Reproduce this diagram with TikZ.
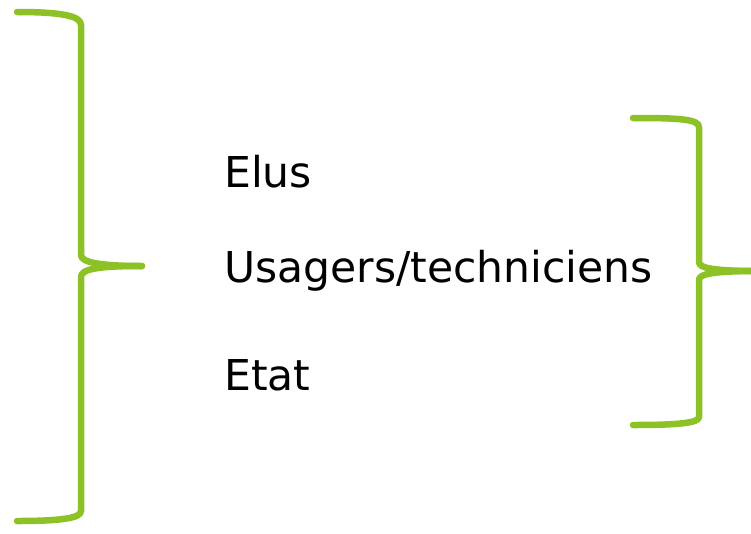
\documentclass[tikz,border=0pt]{standalone}
\usepackage{fontspec}
\setmainfont{DejaVu Sans}
\definecolor{bracegreen}{RGB}{141,194,38}
\begin{document}
\begin{tikzpicture}[x=1pt,y=-1pt,
  brace/.style={draw=bracegreen,line width=6.5pt,line cap=round,line join=round},
  label/.style={anchor=base west,inner sep=0pt,font=\fontsize{42.5}{50}\selectfont}]
\useasboundingbox (0,0) rectangle (751,533);
% left brace
\draw[brace] (17,12) .. controls (62,12) and (81,16) .. (81,25) -- (81,255)
  .. controls (81,262) and (98,266) .. (142,266);
\draw[brace] (142,266) .. controls (98,266) and (81,269) .. (81,277) -- (81,511)
  .. controls (81,518) and (62,521) .. (17,521);
% right brace
\draw[brace] (633,118) .. controls (678,118) and (699,119) .. (699,127) -- (699,262)
  .. controls (699,268) and (712,271) .. (760,271);
\draw[brace] (760,271) .. controls (712,271) and (699,274) .. (699,280) -- (699,417)
  .. controls (699,423) and (678,425) .. (633,425);
% texts
\node[label] (elus) at (224,187) {Elus};
\node[label] (usagers) at (224,282) {Usagers/techniciens};
\node[label] (etat) at (224,390) {Etat};
\end{tikzpicture}
\end{document}
